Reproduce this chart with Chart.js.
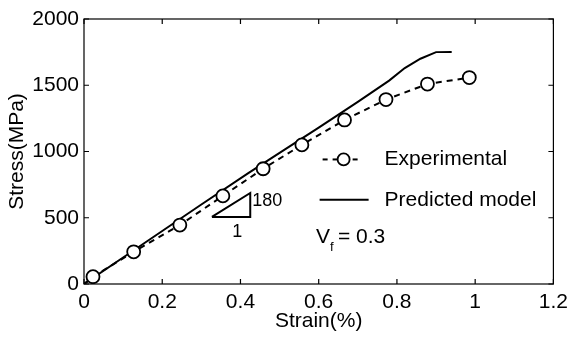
<!DOCTYPE html>
<html>
<head>
<meta charset="utf-8">
<style>
  html, body { margin: 0; padding: 0; background: #fff; }
  #wrap { width: 574px; height: 340px; }
</style>
<script src="https://cdn.jsdelivr.net/npm/chart.js@4/dist/chart.umd.min.js"></script>
</head>
<body>
<div id="wrap"><canvas id="myChart" width="574" height="340"></canvas></div>
<script>
// experimental points (strain %, stress MPa)
var expStrain = [0, 0.023, 0.127, 0.245, 0.355, 0.458, 0.557, 0.666, 0.772, 0.878, 0.985];
var expStress = [0, 55, 243, 445, 665, 870, 1050, 1238, 1392, 1509, 1558];

// predicted model curve
var modStrain = [0, 0.1, 0.2, 0.3, 0.42, 0.5, 0.6, 0.7, 0.78, 0.82, 0.86, 0.9, 0.94];
var modStress = [0, 200, 400, 600, 837, 990, 1180, 1375, 1535, 1630, 1700, 1750, 1751];

// slope triangle (1 : 180)
var triStrain = [0.327, 0.425, 0.425, 0.327];
var triStress = [506, 506, 687, 506];

var xTicks = [0, 0.2, 0.4, 0.6, 0.8, 1, 1.2];
var yTicks = [0, 500, 1000, 1500, 2000];

var FONT = "'Liberation Sans', Arial, sans-serif";

function pts(xs, ys) {
	return xs.map(function(x, i) { return { x: x, y: ys[i] }; });
}

var extras = {
	id: "extras",
	afterDraw: function(chart) {
		var c = chart.ctx, a = chart.chartArea;
		var xs = chart.scales.x, ys = chart.scales.y;
		c.save();
		// frame
		c.strokeStyle = "#000";
		c.lineWidth = 1.2;
		c.strokeRect(a.left, a.top, a.right - a.left, a.bottom - a.top);
		// inward ticks
		var t = 5;
		c.beginPath();
		xTicks.forEach(function(v) {
			var px = xs.getPixelForValue(v);
			c.moveTo(px, a.bottom); c.lineTo(px, a.bottom - t);
			c.moveTo(px, a.top); c.lineTo(px, a.top + t);
		});
		yTicks.forEach(function(v) {
			var py = ys.getPixelForValue(v);
			c.moveTo(a.left, py); c.lineTo(a.left + t, py);
			c.moveTo(a.right, py); c.lineTo(a.right - t, py);
		});
		c.stroke();

		// legend
		var lx = xs.getPixelForValue(0.61), ly1 = ys.getPixelForValue(940), ly2 = ys.getPixelForValue(635);
		c.lineWidth = 2;
		c.setLineDash([5, 5]);
		c.beginPath(); c.moveTo(lx, ly1); c.lineTo(lx + 40, ly1); c.stroke();
		c.setLineDash([]);
		c.beginPath(); c.arc(lx + 21, ly1, 6, 0, Math.PI * 2);
		c.fillStyle = "#fff"; c.fill(); c.lineWidth = 1.8; c.stroke();
		c.lineWidth = 2;
		c.beginPath(); c.moveTo(lx - 3, ly2); c.lineTo(lx + 46, ly2); c.stroke();
		c.fillStyle = "#000";
		c.font = "21px " + FONT;
		c.textBaseline = "middle";
		c.textAlign = "left";
		c.fillText("Experimental", lx + 62, ly1);
		c.fillText("Predicted model", lx + 62, ly2);

		// V_f label
		var vx = xs.getPixelForValue(0.593), vy = ys.getPixelForValue(355);
		c.font = "21px " + FONT;
		c.fillText("V", vx, vy);
		var vw = c.measureText("V").width;
		c.font = "13px " + FONT;
		c.fillText("f", vx + vw, vy + 10);
		c.font = "21px " + FONT;
		c.fillText("= 0.3", vx + vw + 8, vy);

		// triangle labels
		c.font = "18px " + FONT;
		c.fillText("180", xs.getPixelForValue(0.43), ys.getPixelForValue(625));
		c.textAlign = "center";
		c.fillText("1", xs.getPixelForValue(0.392), ys.getPixelForValue(390));
		c.restore();
	}
};

var ctx = document.getElementById("myChart").getContext("2d");
var chart = new Chart(ctx, {
	type: "scatter",
	data: {
		datasets: [{
			label: "Experimental",
			data: pts(expStrain, expStress),
			showLine: true,
			borderColor: "#000",
			borderWidth: 2,
			borderDash: [6, 5],
			pointRadius: expStrain.map(function(v, i) { return i === 0 ? 0 : 6.5; }),
			pointBackgroundColor: "#fff",
			pointBorderColor: "#000",
			pointBorderWidth: 1.8
		}, {
			label: "Predicted model",
			data: pts(modStrain, modStress),
			showLine: true,
			borderColor: "#000",
			borderWidth: 2,
			pointRadius: 0
		}, {
			label: "slope",
			data: pts(triStrain, triStress),
			showLine: true,
			borderColor: "#000",
			borderWidth: 2,
			pointRadius: 0
		}]
	},
	options: {
		responsive: false,
		animation: false,
		layout: { padding: { top: 19, right: 16, left: 0, bottom: 0 } },
		plugins: { legend: { display: false }, tooltip: { enabled: false } },
		scales: {
			x: {
				type: "linear", min: 0, max: 1.2,
				afterFit: function(s) { s.height = 56; },
				afterBuildTicks: function(s) { s.ticks = xTicks.map(function(v) { return { value: v }; }); },
				grid: { display: false, drawTicks: false },
				border: { display: false },
				ticks: { color: "#000", padding: 6, maxRotation: 0, font: { family: FONT, size: 21 },
					callback: function(v) { return String(v); } },
				title: { display: true, text: "Strain(%)", color: "#000", padding: { top: 0, bottom: 6 }, font: { family: FONT, size: 21 } }
			},
			y: {
				type: "linear", min: 0, max: 2000,
				afterFit: function(s) { s.width = 84; },
				afterBuildTicks: function(s) { s.ticks = yTicks.map(function(v) { return { value: v }; }); },
				grid: { display: false, drawTicks: false },
				border: { display: false },
				ticks: { color: "#000", padding: 5, font: { family: FONT, size: 21 },
					callback: function(v) { return String(v); } },
				title: { display: true, text: "Stress(MPa)", color: "#000", padding: { top: 5, bottom: 0 }, font: { family: FONT, size: 21 } }
			}
		}
	},
	plugins: [extras]
});
</script>
</body>
</html>
